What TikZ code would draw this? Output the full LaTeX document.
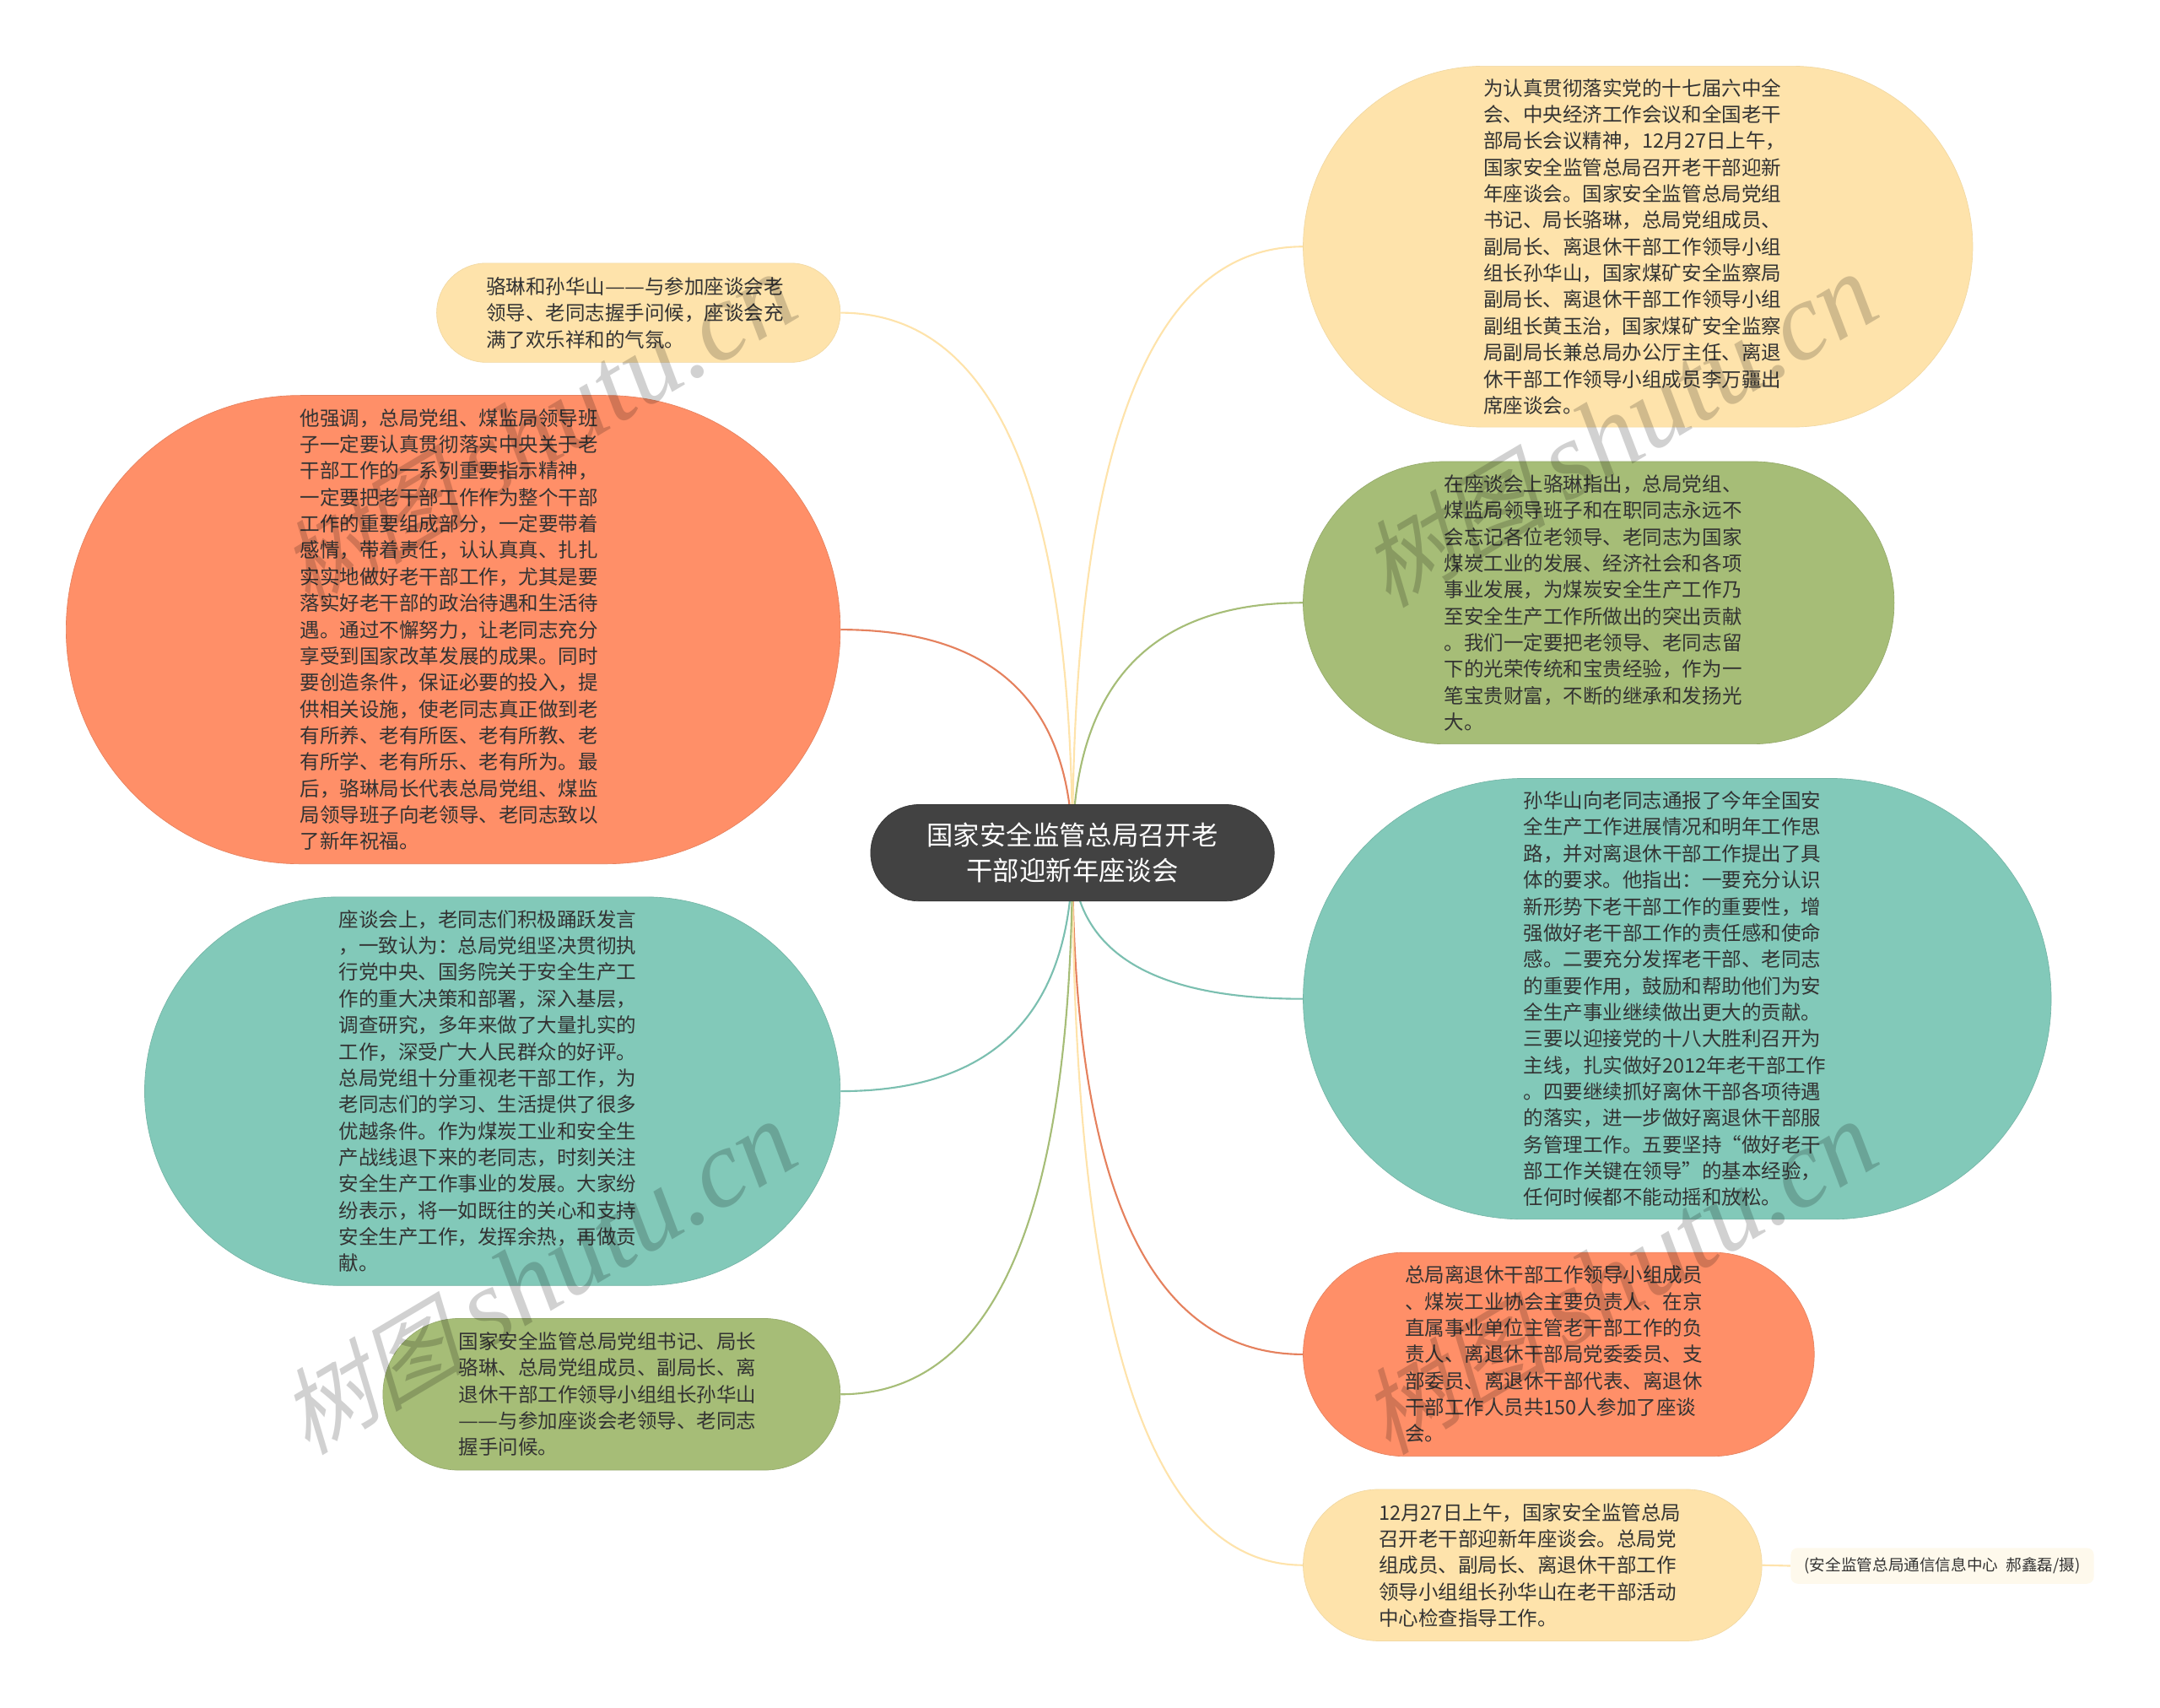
\documentclass[tikz,border=0pt]{standalone}
\usepackage{fontspec}
\usetikzlibrary{backgrounds,calc}
\setmainfont{Noto Sans CJK SC}
\newfontfamily\markcjk[FakeSlant=0.25]{Noto Sans CJK SC}
\newfontfamily\marklatin{Liberation Serif}
\definecolor{paleyellow}{HTML}{FEE3AB}
\definecolor{palegreen}{HTML}{A6BD77}
\definecolor{paleteal}{HTML}{82C9B9}
\definecolor{paleorange}{HTML}{FF8F68}
\definecolor{rootgray}{HTML}{424242}
\definecolor{notefill}{HTML}{FEF9EC}
\newcommand\dashpair{\makebox[14.4pt]{\scalebox{1.14}[1]{—}}\makebox[14.4pt]{\scalebox{1.14}[1]{—}}}
\newcommand\rootlink[2]{\draw[#1] (root.center) .. controls ($(root.center)!0.667!(root.center |- #2)$) and ($(#2)!0.667!(root.center |- #2)$) .. (#2);}
\tikzset{
  pill/.style 2 args={shape=rectangle,minimum width=#1pt,minimum height=#2pt,
    text width=#1pt-#2pt,inner sep=0pt,rounded corners=#2pt/2,align=left,
    text=black!80,font=\fontsize{14.4}{19.2}\selectfont},
  yellowtopic/.style={fill=paleyellow,draw=paleyellow!95!black,line width=0.4pt},
  greentopic/.style={fill=palegreen,draw=palegreen!90!black,line width=0.4pt},
  tealtopic/.style={fill=paleteal,draw=paleteal!90!black,line width=0.4pt},
  orangetopic/.style={fill=paleorange,draw=paleorange!90!black,line width=0.4pt},
  yellowlink/.style={draw=paleyellow,line width=1.3pt},
  greenlink/.style={draw=palegreen,line width=1.3pt},
  teallink/.style={draw=paleteal!95!black,line width=1.3pt},
  orangelink/.style={draw=paleorange!90!black,line width=1.3pt},
  shutumark/.style={rotate=30.7,text=black,text opacity=0.18,inner sep=0pt}
}
\begin{document}
\begin{tikzpicture}[x=1pt,y=-1pt]
  \useasboundingbox (0,0) rectangle (1568,1239.1);
  \node[pill={293}{70},fill=rootgray,draw=rootgray!80!black,line width=0.4pt,text=white,
    align=center,font=\fontsize{19.2}{26}\selectfont] (root) at (778.5,619)
    {国家安全监管总局召开老\\干部迎新年座谈会};
  \node[pill={486}{262},yellowtopic] (meeting) at (1189,179)
    {为认真贯彻落实党的十七届六中全\\会、中央经济工作会议和全国老干\\部局长会议精神，12月27日上午，\\国家安全监管总局召开老干部迎新\\年座谈会。国家安全监管总局党组\\书记、局长骆琳，总局党组成员、\\副局长、离退休干部工作领导小组\\组长孙华山，国家煤矿安全监察局\\副局长、离退休干部工作领导小组\\副组长黄玉治，国家煤矿安全监察\\局副局长兼总局办公厅主任、离退\\休干部工作领导小组成员李万疆出\\席座谈会。};
  \node[pill={429}{205},greentopic] (speech) at (1160.5,437.5)
    {在座谈会上骆琳指出，总局党组、\\煤监局领导班子和在职同志永远不\\会忘记各位老领导、老同志为国家\\煤炭工业的发展、经济社会和各项\\事业发展，为煤炭安全生产工作乃\\至安全生产工作所做出的突出贡献\\。我们一定要把老领导、老同志留\\下的光荣传统和宝贵经验，作为一\\笔宝贵财富，不断的继承和发扬光\\大。};
  \node[pill={543}{320},tealtopic] (report) at (1217.5,725)
    {孙华山向老同志通报了今年全国安\\全生产工作进展情况和明年工作思\\路，并对离退休干部工作提出了具\\体的要求。他指出：一要充分认识\\新形势下老干部工作的重要性，增\\强做好老干部工作的责任感和使命\\感。二要充分发挥老干部、老同志\\的重要作用，鼓励和帮助他们为安\\全生产事业继续做出更大的贡献。\\三要以迎接党的十八大胜利召开为\\主线，扎实做好2012年老干部工作\\。四要继续抓好离休干部各项待遇\\的落实，进一步做好离退休干部服\\务管理工作。五要坚持“做好老干\\部工作关键在领导”的基本经验，\\任何时候都不能动摇和放松。};
  \node[pill={371}{148},orangetopic] (attend) at (1131.5,983)
    {总局离退休干部工作领导小组成员\\、煤炭工业协会主要负责人、在京\\直属事业单位主管老干部工作的负\\责人、离退休干部局党委委员、支\\部委员、离退休干部代表、离退休\\干部工作人员共150人参加了座谈\\会。};
  \node[pill={333}{110},yellowtopic] (visit) at (1112.5,1136)
    {12月27日上午，国家安全监管总局\\召开老干部迎新年座谈会。总局党\\组成员、副局长、离退休干部工作\\领导小组组长孙华山在老干部活动\\中心检查指导工作。};
  \node[shape=rectangle,minimum width=220pt,minimum height=26pt,inner sep=0pt,rounded corners=5pt,
    fill=notefill,text=black!80,font=\fontsize{11.4}{14}\selectfont] (photo) at (1410,1136.5)
    {(安全监管总局通信信息中心\hspace{3pt} 郝鑫磊/摄)};
  \node[pill={293}{72},yellowtopic] (greet) at (463.5,227)
    {骆琳和孙华山\dashpair 与参加座谈会老\\领导、老同志握手问候，座谈会充\\满了欢乐祥和的气氛。};
  \node[pill={562}{340},orangetopic] (stress) at (329,457)
    {他强调，总局党组、煤监局领导班\\子一定要认真贯彻落实中央关于老\\干部工作的一系列重要指示精神，\\一定要把老干部工作作为整个干部\\工作的重要组成部分，一定要带着\\感情，带着责任，认认真真、扎扎\\实实地做好老干部工作，尤其是要\\落实好老干部的政治待遇和生活待\\遇。通过不懈努力，让老同志充分\\享受到国家改革发展的成果。同时\\要创造条件，保证必要的投入，提\\供相关设施，使老同志真正做到老\\有所养、老有所医、老有所教、老\\有所学、老有所乐、老有所为。最\\后，骆琳局长代表总局党组、煤监\\局领导班子向老领导、老同志致以\\了新年祝福。};
  \node[pill={505}{282},tealtopic] (veteran) at (357.5,792)
    {座谈会上，老同志们积极踊跃发言\\，一致认为：总局党组坚决贯彻执\\行党中央、国务院关于安全生产工\\作的重大决策和部署，深入基层，\\调查研究，多年来做了大量扎实的\\工作，深受广大人民群众的好评。\\总局党组十分重视老干部工作，为\\老同志们的学习、生活提供了很多\\优越条件。作为煤炭工业和安全生\\产战线退下来的老同志，时刻关注\\安全生产工作事业的发展。大家纷\\纷表示，将一如既往的关心和支持\\安全生产工作，发挥余热，再做贡\\献。};
  \node[pill={332}{110},greentopic] (leaders) at (444,1012)
    {国家安全监管总局党组书记、局长\\骆琳、总局党组成员、副局长、离\\退休干部工作领导小组组长孙华山\\\dashpair 与参加座谈会老领导、老同志\\握手问候。};
  \begin{scope}[on background layer]
    \rootlink{yellowlink}{meeting.west}
    \rootlink{greenlink}{speech.west}
    \rootlink{teallink}{report.west}
    \rootlink{orangelink}{attend.west}
    \rootlink{yellowlink}{visit.west}
    \draw[yellowlink] (visit.east) -- (photo.west);
    \rootlink{yellowlink}{greet.east}
    \rootlink{orangelink}{stress.east}
    \rootlink{teallink}{veteran.east}
    \rootlink{greenlink}{leaders.east}
  \end{scope}
  \foreach \i/\px/\py in {1/390/313,2/390/928,3/1175/313,4/1175/928}
    \node[shutumark] (shutu\i) at (\px,\py)
      {{\markcjk\fontsize{68}{68}\selectfont 树图}\hspace{14pt}{\marklatin\itshape\fontsize{80}{80}\selectfont shutu.cn}};
\end{tikzpicture}
\end{document}
